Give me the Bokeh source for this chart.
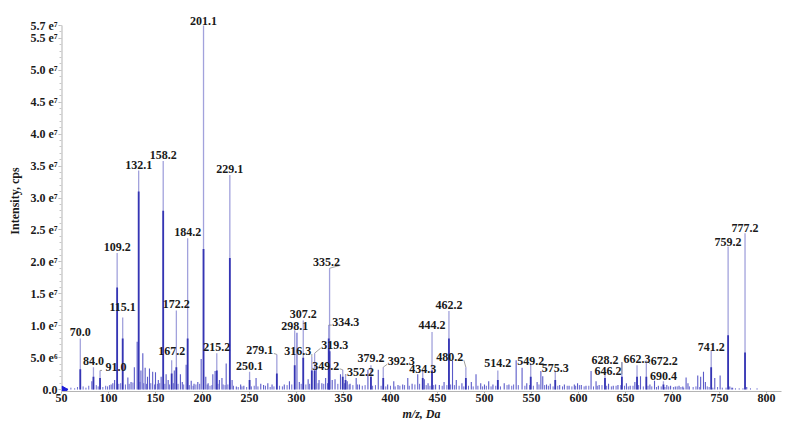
import math
from bokeh.plotting import figure
from bokeh.models import Range1d, FixedTicker, CustomJSTickFormatter, LabelSet, ColumnDataSource
from bokeh.embed import file_html
from bokeh.resources import INLINE

# ---------------- data ----------------
# labelled peaks: m/z, apex intensity (x1e6), intensity of the dense core (x1e6)
label_mz = [70.0, 84.0, 91.0, 109.2, 115.1, 132.1, 158.2, 167.2, 172.2, 184.2,
            201.1, 215.2, 229.1, 250.1, 279.1, 298.1, 307.2, 316.3, 319.3, 334.3,
            335.2, 349.2, 352.2, 379.2, 392.3, 434.3, 444.2, 462.2, 480.2, 514.2,
            549.2, 575.3, 628.2, 646.2, 662.3, 672.2, 690.4, 741.2, 759.2, 777.2]
label_top = [8.0, 3.5, 3.0, 21.4, 11.3, 34.3, 35.8, 4.6, 12.4, 23.7,
             57.0, 5.7, 33.6, 2.8, 5.5, 9.3, 10.8, 5.1, 5.7, 10.1,
             19.0, 3.1, 2.4, 3.8, 3.5, 2.9, 9.0, 12.3, 3.5, 3.0,
             4.1, 2.9, 3.1, 4.3, 3.8, 4.5, 1.3, 6.1, 22.4, 24.5]
label_core = [3.2, 2.0, 1.8, 16.0, 8.0, 31.0, 28.0, 2.5, 3.5, 8.0,
              22.0, 3.0, 20.6, 1.5, 2.5, 3.8, 5.0, 3.0, 3.0, 8.0,
              6.0, 2.0, 1.5, 2.0, 1.8, 1.8, 3.0, 8.0, 1.8, 1.5,
              2.0, 1.5, 1.8, 2.0, 2.0, 2.0, 0.8, 3.5, 8.5, 5.8]

# unlabelled peaks: m/z and intensity (x1e6)
minor_mz = [82.3, 102.8, 104.6, 106.5, 120.6, 124.0, 127.5, 130.5, 134.5, 136.5,
            139.0, 141.5, 143.6, 147.0, 150.0, 153.0, 156.0, 161.3, 163.5, 170.0,
            176.5, 178.5, 182.6, 188.0, 191.0, 195.0, 198.6, 203.5, 206.0, 211.0,
            213.4, 218.0, 220.7, 225.2, 231.5, 236.0, 240.6, 244.0, 257.0, 262.0,
            265.0, 269.5, 274.0, 287.0, 292.5, 300.5, 303.0, 312.4, 321.0, 324.0,
            327.0, 331.0, 338.0, 341.0, 346.8, 354.0, 357.0, 363.5, 367.0, 376.0,
            387.0, 397.0, 403.5, 408.0, 413.0, 418.4, 423.0, 429.0, 436.0, 440.0,
            448.0, 452.0, 457.0, 466.0, 470.0, 476.0, 486.0, 491.0, 496.0, 500.0,
            504.5, 509.0, 521.0, 526.0, 533.7, 540.0, 545.0, 556.0, 560.0, 562.0,
            566.0, 570.0, 580.0, 585.0, 590.0, 595.6, 599.0, 603.0, 608.0, 613.4,
            618.7, 622.0, 632.0, 637.0, 642.0, 651.0, 655.0, 660.0, 666.0, 676.0,
            680.9, 685.0, 694.0, 698.0, 703.0, 707.0, 711.0, 714.5, 716.5, 726.9,
            730.0, 733.0, 735.0, 745.0, 750.7, 761.0, 764.0, 779.0]
minor_int = [1.3, 0.8, 1.0, 1.5, 1.9, 1.2, 3.5, 7.5, 3.0, 5.7,
             3.4, 2.0, 3.3, 2.8, 2.7, 1.5, 2.0, 2.4, 1.5, 3.0,
             2.4, 1.2, 3.9, 1.4, 0.9, 1.2, 4.8, 2.0, 1.0, 2.4,
             2.9, 1.5, 1.8, 4.1, 1.5, 0.5, 0.8, 0.6, 1.8, 0.9,
             0.7, 1.0, 0.8, 0.8, 1.3, 8.9, 1.2, 1.6, 3.8, 1.5,
             1.0, 1.8, 1.5, 1.6, 2.4, 1.3, 0.9, 1.8, 0.8, 3.1,
             3.1, 0.8, 1.3, 0.7, 0.8, 1.8, 0.9, 2.4, 1.6, 1.0,
             0.8, 0.7, 1.2, 4.5, 1.5, 1.0, 1.2, 2.4, 1.0, 0.8,
             1.3, 0.8, 1.0, 0.8, 4.6, 3.4, 1.0, 1.2, 2.9, 2.1,
             0.8, 0.9, 0.7, 0.8, 0.6, 0.8, 1.0, 0.7, 0.6, 2.9,
             1.3, 0.7, 0.9, 0.6, 0.7, 1.0, 0.6, 1.2, 2.1, 0.8,
             1.4, 0.6, 0.7, 0.6, 0.5, 0.6, 0.5, 1.9, 1.0, 2.2,
             2.0, 2.8, 1.2, 1.8, 2.2, 0.5, 0.3, 0.4]

# baseline noise: m/z and intensity (x1e6)
noise_mz = [56, 60, 64, 67, 73, 76, 79, 87, 89, 94,
            97, 99, 101, 111, 113, 118, 122, 126, 133.5, 137.5,
            140.5, 145, 149, 152, 154.5, 160, 165, 169, 174, 180,
            186, 190, 193, 197, 205, 208, 210, 216.5, 222, 224,
            227, 233, 238, 242, 247, 252, 255, 259, 267, 272,
            276, 282, 285, 290, 295, 305, 310, 314, 323, 329,
            333, 344, 351, 356, 360, 365, 370, 373, 381, 384,
            390, 395, 400, 405, 410, 415, 420, 426, 431, 438,
            442, 446, 455, 460, 464, 468, 473, 478, 483, 488,
            493, 498, 502, 507, 512, 517, 524, 529, 531, 536,
            543, 548, 552, 558, 564, 568, 573, 578, 583, 588,
            593, 597, 601, 606, 611, 616, 620, 625, 630, 635,
            640, 645, 649, 653, 658, 664, 669, 674, 678, 683,
            688, 692, 696, 701, 705, 709, 712, 718, 722, 725,
            729, 737, 739, 743, 748, 753, 757, 763, 767, 771,
            775, 783, 790]
noise_int = [0.2, 0.3, 0.2, 0.4, 0.5, 0.3, 0.6, 0.7, 0.5, 0.4,
             0.6, 0.5, 0.7, 0.9, 1.0, 0.8, 0.9, 1.1, 1.2, 1.0,
             0.9, 1.0, 0.8, 0.9, 1.0, 0.9, 0.8, 1.0, 0.9, 0.8,
             0.7, 0.6, 0.8, 0.9, 0.8, 0.6, 0.7, 0.9, 0.8, 0.7,
             0.8, 0.6, 0.4, 0.5, 0.4, 0.5, 0.6, 0.5, 0.6, 0.4,
             0.5, 0.6, 0.5, 0.7, 0.8, 0.9, 0.8, 0.9, 1.0, 0.9,
             1.0, 0.9, 1.0, 0.8, 0.7, 0.8, 0.6, 0.7, 0.6, 0.7,
             0.6, 0.5, 0.6, 0.5, 0.6, 0.7, 0.6, 0.8, 0.9, 0.7,
             0.6, 0.7, 0.6, 0.7, 0.8, 0.7, 0.6, 0.5, 0.6, 0.5,
             0.6, 0.5, 0.6, 0.5, 0.6, 0.5, 0.7, 0.6, 0.8, 0.7,
             0.6, 0.7, 0.6, 0.8, 0.7, 0.6, 0.5, 0.6, 0.5, 0.6,
             0.5, 0.6, 0.7, 0.5, 0.6, 0.5, 0.6, 0.7, 0.6, 0.5,
             0.6, 0.7, 0.6, 0.5, 0.6, 0.7, 0.5, 0.6, 0.5, 0.4,
             0.5, 0.4, 0.5, 0.4, 0.5, 0.4, 0.3, 0.5, 0.4, 0.5,
             0.4, 0.5, 0.4, 0.3, 0.4, 0.3, 0.3, 0.3, 0.2, 0.2,
             0.2, 0.2, 0.2]

x_ticks = [50, 100, 150, 200, 250, 300, 350, 400, 450, 500, 550, 600, 650, 700, 750, 800]
y_ticks = [0, 5e6, 1e7, 1.5e7, 2e7, 2.5e7, 3e7, 3.5e7, 4e7, 4.5e7, 5e7, 5.5e7, 5.7e7]
y_axis_top = 5.7e7

# ---------------- layout ----------------
X0, X1 = 50, 816
FW, FH = 720, 381
BL, BR, BT, BB = 61, 10, 10, 38
sy = 6.386e-6            # px per intensity unit
Y0 = -0.3e6
Y1 = Y0 + FH / sy
sx = FW / (X1 - X0)

# label placement offsets in screen px (dx right, dy down) relative to peak apex
offsets = {91.0: (16, -3), 279.1: (-17, -4), 316.3: (-14, -6), 319.3: (20, -8),
           334.3: (17, -3), 349.2: (-17, -4), 352.2: (15, -2), 392.3: (18, -6),
           434.3: (0, -2), 480.2: (-16, -10), 549.2: (0, -2), 628.2: (0, -10),
           646.2: (-14, 9), 672.2: (18, 0), 690.4: (0, -5), 335.2: (-3, -6),
           115.1: (0, -10), 167.2: (0, -9), 298.1: (0, -4), 307.2: (0, -7),
           379.2: (0, -7), 444.2: (0, -7), 514.2: (0, -7), 575.3: (0, -3),
           741.2: (0, -4), 759.2: (0, -5), 777.2: (0, -5), 201.1: (0, -5)}

FONT = "Liberation Serif"
LIGHT = "#a2a2dc"
DARK = "#3535b4"
MID = "#5a5ac8"
TXT = "#1a1a1a"

p = figure(frame_width=FW, frame_height=FH, x_range=Range1d(X0, X1), y_range=Range1d(Y0, Y1),
           output_backend="svg", toolbar_location=None,
           min_border_left=BL, min_border_right=BR, min_border_top=BT, min_border_bottom=BB)
p.grid.visible = False
p.outline_line_color = None

# own y-axis line, only up to the top tick
p.segment(x0=[X0], y0=[Y0], x1=[X0], y1=[y_axis_top], line_color="#b4b4b4", line_width=2)

# baseline noise and minor peaks
p.segment(x0=noise_mz, y0=[0] * len(noise_mz), x1=noise_mz,
          y1=[v * 1e6 for v in noise_int], line_color="#6a6ad0", line_width=1)
p.segment(x0=minor_mz, y0=[0] * len(minor_mz), x1=minor_mz,
          y1=[v * 1e6 for v in minor_int], line_color=MID, line_width=1.1)
# labelled peaks: thin apex line + dense core
p.segment(x0=label_mz, y0=[0] * len(label_mz), x1=label_mz,
          y1=[v * 1e6 for v in label_top], line_color=LIGHT, line_width=1.3)
p.segment(x0=label_mz, y0=[0] * len(label_mz), x1=label_mz,
          y1=[v * 1e6 for v in label_core], line_color=DARK, line_width=1.8)

# peak labels and connectors
lx, ly, dxs, dys, texts = [], [], [], [], []
cx0, cy0, cx1, cy1 = [], [], [], []
for m, t in zip(label_mz, label_top):
    dx, dy = offsets.get(m, (0, -6))
    lx.append(m)
    ly.append(t * 1e6)
    dxs.append(dx)
    dys.append(-dy)
    texts.append(f"{m:.1f}")
    if dx != 0:
        ex = dx - 14 if dx > 0 else dx + 14
        cx0.append(m)
        cy0.append(t * 1e6)
        cx1.append(m + ex / sx)
        cy1.append(t * 1e6 - (dy + 3) / sy)
p.segment(x0=cx0, y0=cy0, x1=cx1, y1=cy1, line_color="#888888", line_width=0.8)

src = ColumnDataSource(dict(x=lx, y=ly, dx=dxs, dy=dys, text=texts))
p.add_layout(LabelSet(x="x", y="y", text="text", x_offset="dx", y_offset="dy", source=src,
                      text_align="center", text_baseline="middle", text_font=FONT,
                      text_font_style="bold", text_font_size="12px", text_color=TXT))

# zero marker on the y axis
p.scatter(x=[X0 + 2.5 / sx], y=[0], marker="triangle", angle=-math.pi / 2, size=7,
          fill_color="#1c1cd8", line_color="#1c1cd8")

# axes
for ax in (p.xaxis[0], p.yaxis[0]):
    ax.major_tick_line_color = "#b4b4b4"
    ax.minor_tick_line_color = "#c8c8c8"
    ax.major_label_text_font = FONT
    ax.major_label_text_font_style = "bold"
    ax.major_label_text_font_size = "12px"
    ax.major_label_text_color = TXT
    ax.axis_label_text_font = FONT
    ax.axis_label_text_font_size = "12px"
    ax.axis_label_text_color = TXT

p.xaxis.axis_line_color = "#b4b4b4"
p.xaxis.ticker = FixedTicker(ticks=x_ticks)
p.xaxis.major_tick_in = 0
p.xaxis.major_tick_out = 2
p.xaxis.minor_tick_out = 0
p.xaxis.major_label_standoff = 0
p.xaxis.axis_label = "m/z, Da"
p.xaxis.axis_label_text_font_style = "bold italic"
p.xaxis.axis_label_standoff = 2

p.yaxis.axis_line_color = None
p.yaxis.ticker = FixedTicker(ticks=y_ticks, minor_ticks=[i * 1e6 for i in range(0, 58)])
p.yaxis.formatter = CustomJSTickFormatter(code="""
if (tick == 0) return "0.0";
const e = Math.floor(Math.log10(tick) + 1e-9);
const m = tick / Math.pow(10, e);
const sup = {6: "\u2076", 7: "\u2077"};
return m.toFixed(1) + " e" + sup[e];
""")
p.yaxis.major_tick_in = 0
p.yaxis.major_tick_out = 3
p.yaxis.minor_tick_in = 0
p.yaxis.minor_tick_out = 2
p.yaxis.major_label_standoff = 1
p.yaxis.axis_label = "Intensity, cps"
p.yaxis.axis_label_text_font_style = "bold"
p.yaxis.axis_label_standoff = 6

open("out.html", "w").write(file_html(p, INLINE))
